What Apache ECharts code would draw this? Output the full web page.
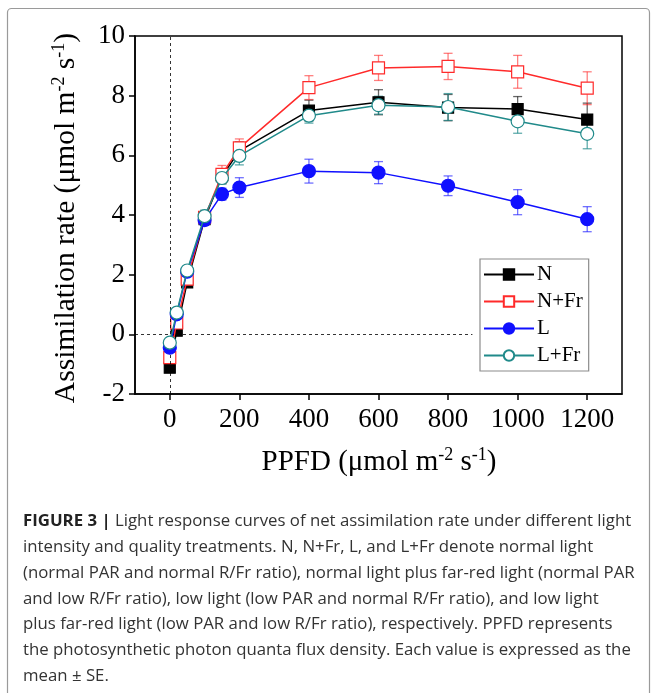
<!DOCTYPE html>
<html>
<head>
<meta charset="utf-8">
<script src="https://cdn.jsdelivr.net/npm/echarts@6/dist/echarts.min.js"></script>
<style>
html,body{margin:0;padding:0;background:#fff;}
#c{width:657px;height:693px;}
</style>
</head>
<body>
<div id="c"></div>
<script>
// ---- data ----
const ppfd = [0, 20, 50, 100, 150, 200, 400, 600, 800, 1000, 1200];
const nVals   = [-1.12, 0.12, 1.74, 3.86, 5.30, 6.15, 7.50, 7.78, 7.60, 7.55, 7.20];
const nSE     = [0.10, 0.10, 0.12, 0.20, 0.25, 0.30, 0.35, 0.42, 0.44, 0.42, 0.55];
const nfrVals = [-0.78, 0.38, 1.85, 3.92, 5.36, 6.25, 8.27, 8.93, 8.98, 8.80, 8.25];
const nfrSE   = [0.12, 0.12, 0.15, 0.20, 0.30, 0.30, 0.40, 0.42, 0.44, 0.55, 0.55];
const lVals   = [-0.45, 0.67, 2.10, 3.83, 4.70, 4.92, 5.47, 5.42, 4.98, 4.43, 3.86];
const lSE     = [0.10, 0.10, 0.12, 0.18, 0.20, 0.33, 0.40, 0.37, 0.33, 0.42, 0.42];
const lfrVals = [-0.28, 0.73, 2.14, 3.96, 5.24, 5.98, 7.33, 7.68, 7.62, 7.14, 6.72];
const lfrSE   = [0.10, 0.10, 0.12, 0.20, 0.20, 0.30, 0.25, 0.30, 0.45, 0.40, 0.50];
const xTicks = [0, 200, 400, 600, 800, 1000, 1200];
const yTicks = [-2, 0, 2, 4, 6, 8, 10];
const seriesNames = ['N', 'N+Fr', 'L', 'L+Fr'];
const captionLines = [
  ['FIGURE 3 |', ' Light response curves of net assimilation rate under different light'],
  ['', 'intensity and quality treatments. N, N+Fr, L, and L+Fr denote normal light'],
  ['', '(normal PAR and normal R/Fr ratio), normal light plus far-red light (normal PAR'],
  ['', 'and low R/Fr ratio), low light (low PAR and normal R/Fr ratio), and low light'],
  ['', 'plus far-red light (low PAR and low R/Fr ratio), respectively. PPFD represents'],
  ['', 'the photosynthetic photon quanta flux density. Each value is expressed as the'],
  ['', 'mean \u00b1 SE.']
];

const serif = '"Liberation Serif", "Times New Roman", serif';
const sans = '"Open Sans", "Liberation Sans", sans-serif';
const styles = [
  {color: '#000000', err: 'rgba(0,0,0,0.6)', symbol: 'rect', size: 11, fill: '#000000'},
  {color: '#ff2a2a', err: 'rgba(255,42,42,0.6)', symbol: 'rect', size: 12, fill: '#ffffff'},
  {color: '#1010ff', err: 'rgba(16,16,255,0.6)', symbol: 'circle', size: 13, fill: '#1010ff'},
  {color: '#208a8a', err: 'rgba(32,138,138,0.7)', symbol: 'circle', size: 13, fill: '#ffffff'}
];
const vals = [nVals, nfrVals, lVals, lfrVals];
const ses = [nSE, nfrSE, lSE, lfrSE];

const chart = echarts.init(document.getElementById('c'), null, {renderer: 'canvas'});

const series = [];
vals.forEach((v, i) => {
  series.push({
    name: seriesNames[i] + ' SE',
    type: 'custom',
    silent: true,
    z: 2,
    data: ppfd.map((x, k) => [x, v[k] - ses[i][k], v[k] + ses[i][k]]),
    renderItem: function (params, api) {
      const lo = api.coord([api.value(0), api.value(1)]);
      const hi = api.coord([api.value(0), api.value(2)]);
      const w = 4.5;
      const st = {stroke: styles[i].err, lineWidth: 1.3};
      return {
        type: 'group',
        children: [
          {type: 'line', shape: {x1: lo[0], y1: lo[1], x2: hi[0], y2: hi[1]}, style: st},
          {type: 'line', shape: {x1: lo[0] - w, y1: lo[1], x2: lo[0] + w, y2: lo[1]}, style: st},
          {type: 'line', shape: {x1: hi[0] - w, y1: hi[1], x2: hi[0] + w, y2: hi[1]}, style: st}
        ]
      };
    }
  });
});
vals.forEach((v, i) => {
  const s = styles[i];
  series.push({
    name: seriesNames[i],
    type: 'line',
    z: 3 + i,
    data: ppfd.map((x, k) => [x, v[k]]),
    symbol: s.symbol,
    symbolSize: s.size,
    showAllSymbol: true,
    lineStyle: {color: s.color, width: 1.5},
    itemStyle: {color: s.fill, borderColor: s.color, borderWidth: 1.2, opacity: 1},
    emphasis: {disabled: true},
    animation: false
  });
});
series.push({
  name: 'ref',
  type: 'line',
  data: [],
  silent: true,
  markLine: {
    silent: true,
    symbol: 'none',
    label: {show: false},
    lineStyle: {color: '#000', type: [3, 3], width: 0.8},
    data: [
      {xAxis: 0},
      [{coord: [-100, 0]}, {coord: [870, 0]}]
    ]
  }
});

const captionGraphics = captionLines.map((ln, i) => ({
  type: 'text',
  left: 23,
  top: 513 + i * 25.8,
  style: {
    text: (ln[0] ? '{b|' + ln[0] + '}' : '') + '{n|' + ln[1] + '}',
    rich: {
      b: {fontFamily: sans, fontWeight: 'bold', fontSize: 16.8, fill: '#222'},
      n: {fontFamily: sans, fontWeight: 'normal', fontSize: 16.8, fill: '#333'}
    }
  }
}));

const option = {
  animation: false,
  backgroundColor: '#fff',
  grid: {left: 135, right: 35, top: 36, bottom: 299, show: true, borderColor: '#000', borderWidth: 1.5, backgroundColor: 'transparent'},
  xAxis: {
    type: 'value', min: -100, max: 1300,
    axisLine: {show: true, onZero: false, lineStyle: {color: '#000', width: 1.5}},
    axisTick: {show: true, inside: false, length: 6, customValues: xTicks, lineStyle: {color: '#000', width: 1.5}},
    axisLabel: {customValues: xTicks, color: '#000', fontFamily: serif, fontSize: 27, margin: 12,
      formatter: v => String(v)},
    splitLine: {show: false}
  },
  yAxis: {
    type: 'value', min: -2, max: 10, interval: 2,
    axisLine: {show: true, onZero: false, lineStyle: {color: '#000', width: 1.5}},
    axisTick: {show: true, inside: false, length: 6, lineStyle: {color: '#000', width: 1.5}},
    axisLabel: {color: '#000', fontFamily: serif, fontSize: 27, margin: 10,
      formatter: v => yTicks.indexOf(v) >= 0 ? String(v) : ''},
    splitLine: {show: false}
  },
  legend: {
    data: seriesNames,
    orient: 'vertical',
    left: 480, top: 259,
    width: 108,
    padding: [5, 6, 5, 3],
    itemWidth: 50, itemHeight: 13, itemGap: 6,
    backgroundColor: '#fff',
    borderColor: '#8c8c8c', borderWidth: 1.2,
    textStyle: {fontFamily: serif, fontSize: 21, lineHeight: 21, color: '#000', padding: [0, 0, 0, -2]},
    selectedMode: false
  },
  series: series,
  graphic: [
    {type: 'rect', z: -10, shape: {x: 7.5, y: 8.5, width: 642, height: 720, r: 4}, style: {fill: 'none', stroke: '#9a9a9a', lineWidth: 1.2}},
    {
      type: 'text', x: 66, y: 218, rotation: Math.PI / 2,
      style: {
        text: 'Assimilation rate (\u03bcmol m{sup|-2} s{sup|-1})',
        fontFamily: serif, fontSize: 29.5, fill: '#000',
        align: 'center', verticalAlign: 'middle', lineHeight: 31,
        rich: {sup: {fontFamily: serif, fontSize: 18, fill: '#000', verticalAlign: 'top', lineHeight: 18}}
      }
    },
    {
      type: 'text', x: 379, y: 462,
      style: {
        text: 'PPFD (\u03bcmol m{sup|-2} s{sup|-1})',
        fontFamily: serif, fontSize: 29, fill: '#000',
        align: 'center', verticalAlign: 'middle', lineHeight: 31,
        rich: {sup: {fontFamily: serif, fontSize: 18, fill: '#000', verticalAlign: 'top', lineHeight: 18}}
      }
    }
  ].concat(captionGraphics)
};
chart.setOption(option);
</script>
</body>
</html>
